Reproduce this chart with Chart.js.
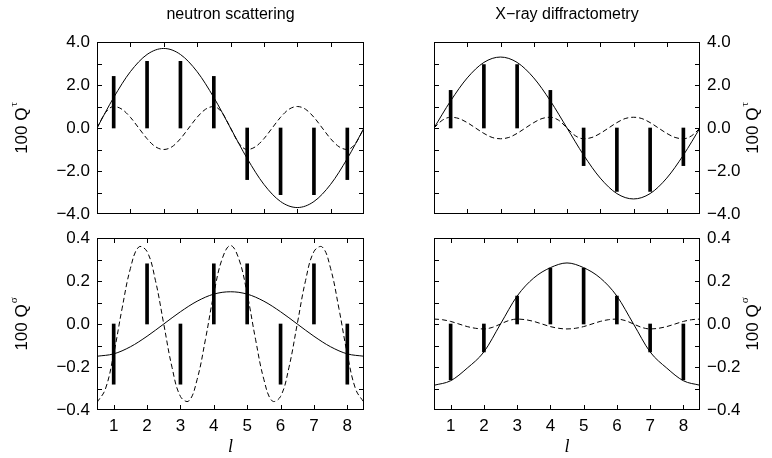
<!DOCTYPE html>
<html>
<head>
<meta charset="utf-8">
<script src="https://cdn.jsdelivr.net/npm/chart.js@4.4.0/dist/chart.umd.min.js"></script>
<style>
  html, body { margin: 0; padding: 0; background: #fff; }
  #wrap { position: relative; width: 772px; height: 458px; }
  #wrap canvas { position: absolute; left: 0; top: 0; }
</style>
</head>
<body>
<div id="wrap">
  <canvas id="tl" width="772" height="458"></canvas>
  <canvas id="tr" width="772" height="458"></canvas>
  <canvas id="bl" width="772" height="458"></canvas>
  <canvas id="br" width="772" height="458"></canvas>
</div>
<script>
// positions l of the reflections
const barX = [1, 2, 3, 4, 5, 6, 7, 8];
// sample points of the curves
const curveX = [0.5, 1, 1.5, 2, 2.5, 3, 3.5, 4, 4.5, 5, 5.5, 6, 6.5, 7, 7.5, 8, 8.5];
const fineX = [0.5, 0.75, 1, 1.25, 1.5, 1.75, 2, 2.25, 2.5, 2.75, 3, 3.25, 3.5, 3.75, 4, 4.25,
  4.5, 4.75, 5, 5.25, 5.5, 5.75, 6, 6.25, 6.5, 6.75, 7, 7.25, 7.5, 7.75, 8, 8.25, 8.5];

// neutron scattering, Q tau
const neutronTauBars = [2.4, 3.1, 3.1, 2.4, -2.4, -3.1, -3.1, -2.4];
const neutronTauSolid = [0, 1.42, 2.62, 3.42, 3.7, 3.42, 2.62, 1.42, 0, -1.42, -2.62, -3.42, -3.7, -3.42, -2.62, -1.42, 0];
const neutronTauDashed = [0, 0.71, 1, 0.87, 0.5, 0, -0.5, -0.87, -1, -0.87, -0.5, 0, 0.5, 0.87, 1, 0.71,
  0, -0.71, -1, -0.87, -0.5, 0, 0.5, 0.87, 1, 0.87, 0.5, 0, -0.5, -0.87, -1, -0.71, 0];

// X-ray diffractometry, Q tau
const xrayTauBars = [1.75, 2.95, 2.95, 1.75, -1.75, -2.95, -2.95, -1.75];
const xrayTauSolid = [0, 1.26, 2.33, 3.05, 3.3, 3.05, 2.33, 1.26, 0, -1.26, -2.33, -3.05, -3.3, -3.05, -2.33, -1.26, 0];
const xrayTauDashed = [0, 0.36, 0.5, 0.44, 0.25, 0, -0.25, -0.44, -0.5, -0.44, -0.25, 0, 0.25, 0.44, 0.5, 0.36,
  0, -0.36, -0.5, -0.44, -0.25, 0, 0.25, 0.44, 0.5, 0.44, 0.25, 0, -0.25, -0.44, -0.5, -0.36, 0];

// neutron scattering, Q sigma
const neutronSigmaBars = [-0.28, 0.28, -0.28, 0.28, 0.28, -0.28, 0.28, -0.28];
const neutronSigmaSolid = [-0.15, -0.139, -0.106, -0.057, 0, 0.057, 0.106, 0.139, 0.15, 0.139, 0.106, 0.057, 0, -0.057, -0.106, -0.139, -0.15];
const neutronSigmaDashed = [-0.365, -0.303, -0.14, 0.071, 0.258, 0.358, 0.337, 0.203, 0, -0.203, -0.337, -0.358, -0.258, -0.071, 0.14, 0.303,
  0.365, 0.303, 0.14, -0.071, -0.258, -0.358, -0.337, -0.203, 0, 0.203, 0.337, 0.358, 0.258, 0.071, -0.14, -0.303, -0.365];

// X-ray diffractometry, Q sigma
const xraySigmaBars = [-0.26, -0.13, 0.13, 0.26, 0.26, 0.13, -0.13, -0.26];
const xraySigmaSolid = [-0.285, -0.264, -0.205, -0.13, 0, 0.13, 0.214, 0.262, 0.284, 0.262, 0.214, 0.13, 0, -0.13, -0.205, -0.264, -0.285];
const xraySigmaDashed = [0.023, 0.02, 0.012, 0, -0.012, -0.02, -0.023, -0.016, 0, 0.016, 0.023, 0.02, 0.012, 0, -0.012, -0.02,
  -0.023, -0.02, -0.012, 0, 0.012, 0.02, 0.023, 0.016, 0, -0.016, -0.023, -0.02, -0.012, 0, 0.012, 0.02, 0.023];

// ticks
const xTicks = [1, 2, 3, 4, 5, 6, 7, 8];
const topXMarks = [1.5, 2.5, 3.5, 4.5, 5.5, 6.5, 7.5];
const tauTicks = [-4, -2, 0, 2, 4];
const tauMarks = [-3, -2, -1, 0, 1, 2, 3];
const sigmaTicks = [-0.4, -0.2, 0, 0.2, 0.4];
const sigmaMarks = [-0.3, -0.2, -0.1, 0, 0.1, 0.2, 0.3];

const sans = '"Liberation Sans", Arial, sans-serif';

// box, inward tick marks and the y title "100 Q^x"
const framePlugin = {
  id: 'frame',
  afterDatasetsDraw(chart, args, opts) {
    const { ctx, chartArea: a, scales } = chart;
    ctx.save();
    ctx.strokeStyle = '#000';
    ctx.lineWidth = 1;
    ctx.beginPath();
    opts.xMarks.forEach(v => {
      const px = Math.round(scales.x.getPixelForValue(v)) + 0.5;
      ctx.moveTo(px, a.top); ctx.lineTo(px, a.top + 5);
      ctx.moveTo(px, a.bottom); ctx.lineTo(px, a.bottom - 5);
    });
    opts.yMarks.forEach(v => {
      const py = Math.round(scales.y.getPixelForValue(v)) + 0.5;
      ctx.moveTo(a.left, py); ctx.lineTo(a.left + 5, py);
      ctx.moveTo(a.right, py); ctx.lineTo(a.right - 5, py);
    });
    ctx.stroke();
    ctx.strokeRect(a.left + 0.5, a.top + 0.5, a.right - a.left - 1, a.bottom - a.top - 1);

    ctx.fillStyle = '#000';
    ctx.translate(opts.titleX, (a.top + a.bottom) / 2);
    ctx.rotate(-Math.PI / 2);
    ctx.textBaseline = 'middle';
    ctx.textAlign = 'left';
    ctx.font = '17px ' + sans;
    const main = '100 Q';
    const w = ctx.measureText(main).width;
    ctx.font = '11px "Liberation Serif", serif';
    const sw = ctx.measureText(opts.sup).width;
    const x0 = -(w + sw + 1) / 2;
    ctx.font = '17px ' + sans;
    ctx.fillText(main, x0, 0);
    ctx.font = '11px "Liberation Serif", serif';
    ctx.fillText(opts.sup, x0 + w + 1, -8);
    ctx.restore();
  }
};

function fmt(v) {
  return v.toFixed(1).replace('-', '\u2212');
}

function panel(id, cfg) {
  const top = !cfg.bottom;
  return new Chart(document.getElementById(id), {
    type: 'line',
    data: {
      datasets: [
        {
          type: 'bar',
          data: cfg.bars.map((v, i) => ({ x: barX[i], y: v })),
          backgroundColor: '#000',
          borderWidth: 0,
          barThickness: 3
        },
        {
          data: cfg.solid.map((v, i) => ({ x: curveX[i], y: v })),
          borderColor: '#000',
          borderWidth: 1,
          pointRadius: 0,
          cubicInterpolationMode: 'monotone'
        },
        {
          data: cfg.dashed.map((v, i) => ({ x: fineX[i], y: v })),
          borderColor: '#000',
          borderWidth: 1,
          borderDash: [5, 3],
          pointRadius: 0,
          tension: 0.4,
          cubicInterpolationMode: cfg.monotone ? 'monotone' : 'default'
        }
      ]
    },
    options: {
      responsive: false,
      animation: false,
      events: [],
      layout: { padding: cfg.padding },
      plugins: {
        legend: { display: false },
        tooltip: { enabled: false },
        title: {
          display: top,
          text: cfg.title || '',
          fullSize: false,
          color: '#000',
          font: { family: sans, size: 16, weight: 'normal', lineHeight: 1.25 },
          padding: { top: 5, bottom: 17 }
        },
        frame: {
          xMarks: top ? topXMarks : xTicks,
          yMarks: top ? tauMarks : sigmaMarks,
          sup: top ? '\u03c4' : '\u03c3',
          titleX: cfg.side === 'left' ? 22 : 753
        }
      },
      scales: {
        x: {
          type: 'linear',
          min: 0.5,
          max: 8.5,
          offset: false,
          display: !top,
          grid: { display: false, drawTicks: false },
          border: { display: false },
          ticks: { color: '#000', padding: 6, font: { family: sans, size: 17 }, maxRotation: 0 },
          title: {
            display: !top,
            text: 'l',
            color: '#000',
            font: { family: '"Liberation Serif", serif', size: 18, style: 'italic' },
            padding: { top: 0, bottom: 0 }
          },
          afterBuildTicks: s => { s.ticks = xTicks.map(v => ({ value: v })); },
          afterFit: s => { s.height = top ? 0 : 48; }
        },
        y: {
          type: 'linear',
          position: cfg.side,
          min: top ? -4 : -0.4,
          max: top ? 4 : 0.4,
          grid: { display: false, drawTicks: false },
          border: { display: false },
          ticks: { color: '#000', padding: 7, font: { family: sans, size: 17 }, callback: v => fmt(v) },
          afterBuildTicks: s => { s.ticks = (top ? tauTicks : sigmaTicks).map(v => ({ value: v })); },
          afterFit: s => { s.width = 40; }
        }
      }
    },
    plugins: [framePlugin]
  });
}

panel('tl', {
  title: 'neutron scattering', side: 'left', monotone: true,
  bars: neutronTauBars, solid: neutronTauSolid, dashed: neutronTauDashed,
  padding: { left: 57, right: 408, top: 0, bottom: 244 }
});
panel('tr', {
  title: 'X\u2212ray diffractometry', side: 'right', monotone: true,
  bars: xrayTauBars, solid: xrayTauSolid, dashed: xrayTauDashed,
  padding: { left: 434, right: 32, top: 0, bottom: 244 }
});
panel('bl', {
  bottom: true, side: 'left', monotone: false,
  bars: neutronSigmaBars, solid: neutronSigmaSolid, dashed: neutronSigmaDashed,
  padding: { left: 57, right: 408, top: 238, bottom: 0 }
});
panel('br', {
  bottom: true, side: 'right', monotone: true,
  bars: xraySigmaBars, solid: xraySigmaSolid, dashed: xraySigmaDashed,
  padding: { left: 434, right: 32, top: 238, bottom: 0 }
});
</script>
</body>
</html>
